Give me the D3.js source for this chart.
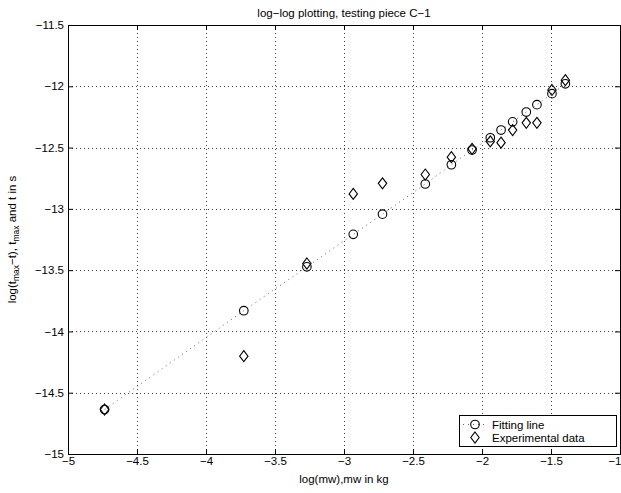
<!DOCTYPE html>
<html>
<head>
<meta charset="utf-8">
<script src="https://cdn.jsdelivr.net/npm/d3@7"></script>
<style>
  html, body { margin: 0; padding: 0; background: #fff; }
  text { font-family: "Liberation Sans", Arial, Helvetica, sans-serif; fill: #000; }
</style>
</head>
<body>
<svg id="chart" width="621" height="493"></svg>
<script>
// ---- data ----
const massLog = [-4.735, -3.726, -3.269, -2.933, -2.721, -2.411, -2.222, -2.072, -1.940, -1.862, -1.778, -1.679, -1.602, -1.493, -1.396];
const fittingLine = [-14.637, -13.831, -13.473, -13.208, -13.043, -12.797, -12.640, -12.520, -12.420, -12.357, -12.290, -12.210, -12.150, -12.060, -11.980];
const experimental = [-14.637, -14.202, -13.446, -12.878, -12.792, -12.720, -12.578, -12.510, -12.450, -12.460, -12.357, -12.298, -12.298, -12.030, -11.950];
const xTicks = [-5, -4.5, -4, -3.5, -3, -2.5, -2, -1.5, -1];
const yTicks = [-15, -14.5, -14, -13.5, -13, -12.5, -12, -11.5];
const seriesNames = ["Fitting line", "Experimental data"];
const titleText = "log\u2212log plotting, testing piece C\u22121";
const xLabelText = "log(mw),mw in kg";

// ---- layout ----
const L = 68, R = 620, T = 25, B = 454;
const svg = d3.select("#chart");
const x = d3.scaleLinear().domain([-5, -1]).range([L, R]);
const y = d3.scaleLinear().domain([-15, -11.5]).range([B, T]);
const fmt = d => String(d).replace("-", "\u2212");

// grid
const grid = svg.append("g").attr("stroke", "#444").attr("stroke-width", 1).attr("stroke-dasharray", "1,3");
grid.selectAll("line.vx").data(xTicks.slice(1, -1)).join("line")
  .attr("x1", d => Math.round(x(d)) + 0.5).attr("x2", d => Math.round(x(d)) + 0.5)
  .attr("y1", T).attr("y2", B);
grid.selectAll("line.hy").data(yTicks.slice(1, -1)).join("line")
  .attr("y1", d => Math.round(y(d)) + 0.5).attr("y2", d => Math.round(y(d)) + 0.5)
  .attr("x1", L).attr("x2", R);

// axes
const tick = 5;
const xAxisB = d3.axisBottom(x).tickValues(xTicks).tickFormat(fmt).tickSizeInner(-tick).tickSizeOuter(0).tickPadding(3);
const xAxisT = d3.axisTop(x).tickValues(xTicks).tickFormat("").tickSizeInner(-tick).tickSizeOuter(0);
const yAxisL = d3.axisLeft(y).tickValues(yTicks).tickFormat(fmt).tickSizeInner(-tick).tickSizeOuter(0).tickPadding(4);
const yAxisR = d3.axisRight(y).tickValues(yTicks).tickFormat("").tickSizeInner(-tick).tickSizeOuter(0);

function styleAxis(g) {
  g.select(".domain").remove();
  g.selectAll("line").attr("stroke", "#000");
  g.selectAll("text").attr("font-size", 11.5).attr("font-family", "Liberation Sans, Arial, sans-serif");
}
const gxb = svg.append("g").attr("transform", `translate(0,${B})`).call(xAxisB).call(styleAxis);
// keep the last label inside the picture
gxb.selectAll(".tick text").filter(d => d === xTicks[xTicks.length - 1])
  .attr("text-anchor", "end").attr("x", 1);
svg.append("g").attr("transform", `translate(0,${T})`).call(xAxisT).call(styleAxis);
svg.append("g").attr("transform", `translate(${L},0)`).call(yAxisL).call(styleAxis);
svg.append("g").attr("transform", `translate(${R},0)`).call(yAxisR).call(styleAxis);

// box
svg.append("rect").attr("x", L + 0.5).attr("y", T + 0.5).attr("width", R - L).attr("height", B - T)
  .attr("fill", "none").attr("stroke", "#000").attr("stroke-width", 1);

// fitting line (dotted)
const pts = massLog.map((m, i) => [m, fittingLine[i], experimental[i]]);
svg.append("path").datum(pts)
  .attr("d", d3.line().x(d => x(d[0])).y(d => y(d[1])))
  .attr("fill", "none").attr("stroke", "#666").attr("stroke-width", 1).attr("stroke-dasharray", "1,4");

// markers
const diamond = (cx, cy) => `M${cx},${cy - 5.5}L${cx + 4.2},${cy}L${cx},${cy + 5.5}L${cx - 4.2},${cy}Z`;
svg.append("g").selectAll("circle").data(pts).join("circle")
  .attr("cx", d => x(d[0])).attr("cy", d => y(d[1])).attr("r", 4.3)
  .attr("fill", "none").attr("stroke", "#000").attr("stroke-width", 1.1);
svg.append("g").selectAll("path").data(pts).join("path")
  .attr("d", d => diamond(x(d[0]), y(d[2])))
  .attr("fill", "none").attr("stroke", "#000").attr("stroke-width", 1.1);

// title and labels
svg.append("text").attr("x", (L + R) / 2).attr("y", 17).attr("text-anchor", "middle")
  .attr("font-size", 11.5).text(titleText);
svg.append("text").attr("x", (L + R) / 2).attr("y", 483).attr("text-anchor", "middle")
  .attr("font-size", 11.5).text(xLabelText);

const yl = svg.append("text").attr("transform", `translate(16,${(T + B) / 2}) rotate(-90)`)
  .attr("text-anchor", "middle").attr("font-size", 11.5);
yl.append("tspan").text("log(t");
yl.append("tspan").attr("font-size", 8.5).attr("dy", 3).text("max");
yl.append("tspan").attr("dy", -3).text("\u2212t), t");
yl.append("tspan").attr("font-size", 8.5).attr("dy", 3).text("max");
yl.append("tspan").attr("dy", -3).text(" and t in s");

// legend
const lg = svg.append("g");
const lx = 459, ly = 415, lw = 157, lh = 31;
lg.append("rect").attr("x", lx + 0.5).attr("y", ly + 0.5).attr("width", lw).attr("height", lh)
  .attr("fill", "#fff").attr("stroke", "#000").attr("stroke-width", 1);
const mx = 475;
lg.append("line").attr("x1", mx - 12).attr("x2", mx + 12).attr("y1", ly + 9.5).attr("y2", ly + 9.5)
  .attr("stroke", "#666").attr("stroke-dasharray", "1,4");
lg.append("circle").attr("cx", mx).attr("cy", ly + 9.5).attr("r", 4.3)
  .attr("fill", "none").attr("stroke", "#000").attr("stroke-width", 1.1);
lg.append("path").attr("d", diamond(mx, ly + 22.5)).attr("fill", "none").attr("stroke", "#000").attr("stroke-width", 1.1);
lg.selectAll("text").data(seriesNames).join("text")
  .attr("x", 492).attr("y", (d, i) => ly + 13.5 + i * 13).attr("font-size", 11.5).text(d => d);
</script>
</body>
</html>
